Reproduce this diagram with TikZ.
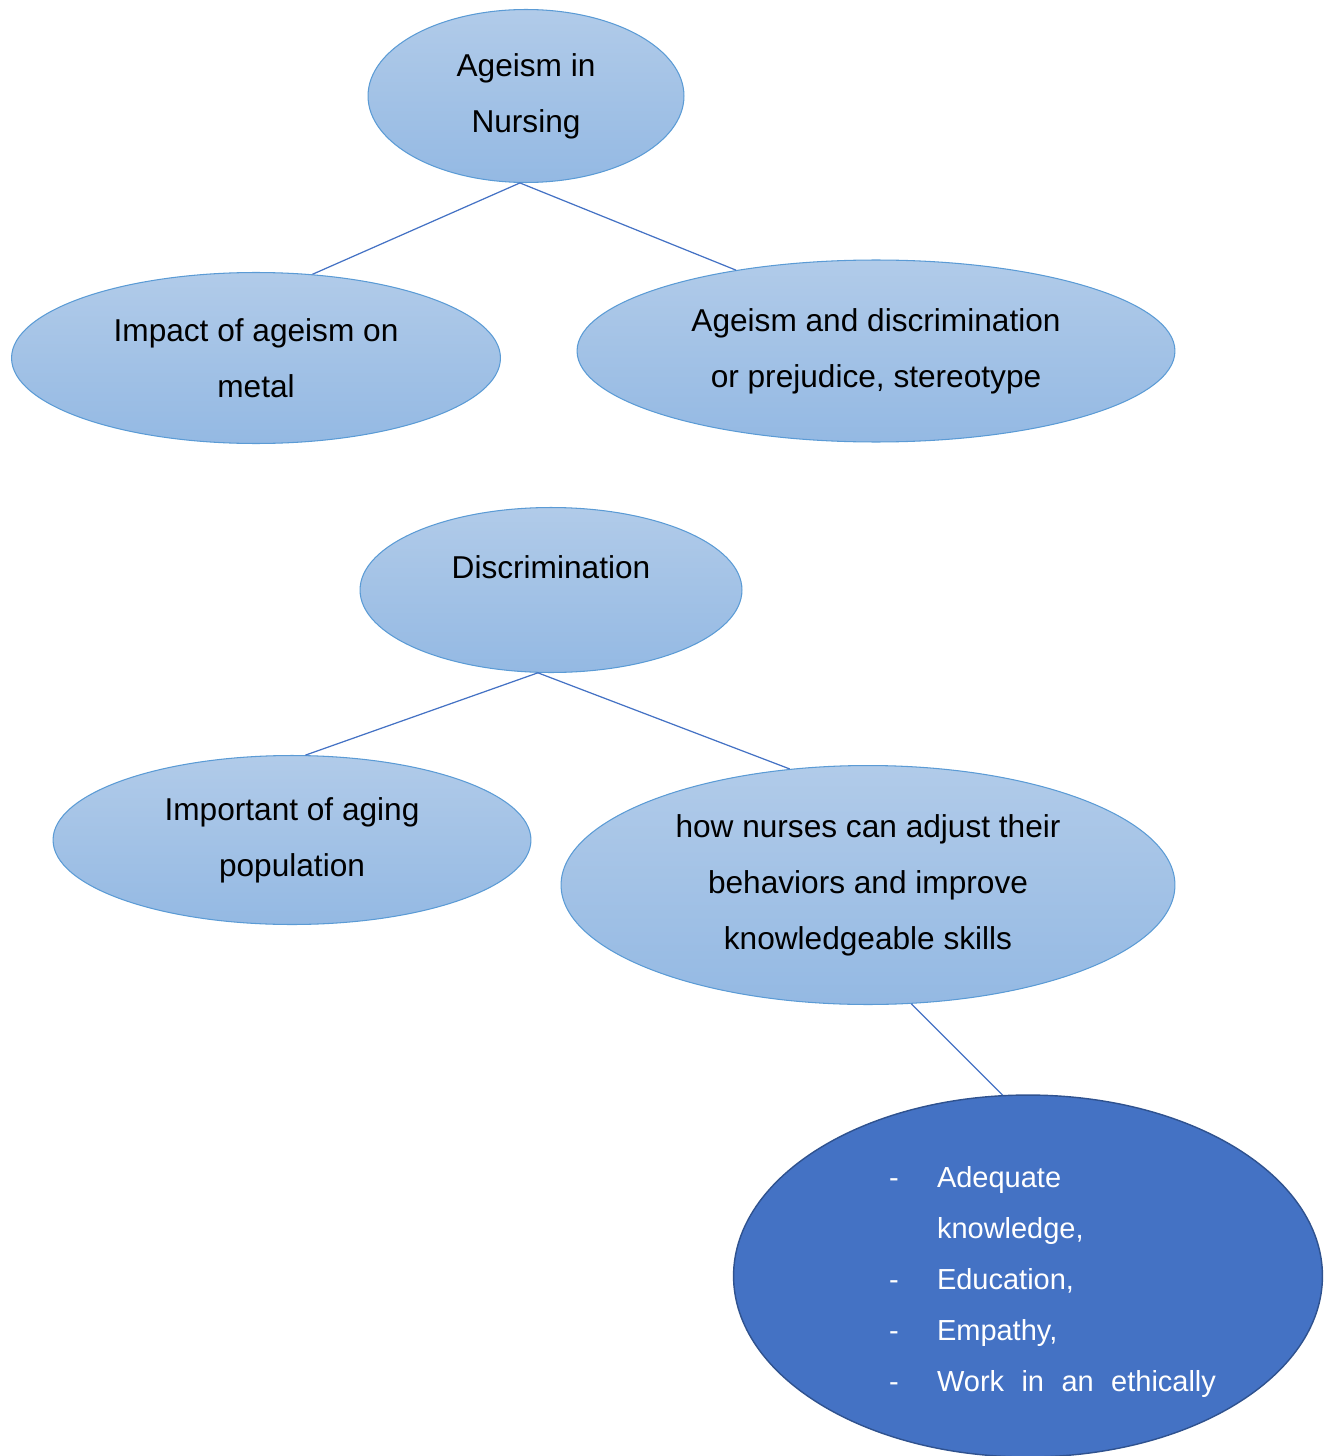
\documentclass[tikz,border=0pt]{standalone}
\usepackage{fontspec}
\setmainfont{Liberation Sans}
\usetikzlibrary{shapes.geometric}
\definecolor{blasshell}{HTML}{B1CBE9}
\definecolor{blassdunkel}{HTML}{94B9E3}
\definecolor{blasrand}{HTML}{5B9BD5}
\definecolor{linienblau}{HTML}{4472C4}
\definecolor{kernblau}{HTML}{4472C4}
\definecolor{kernrand}{HTML}{2F528F}

\begin{document}
\begin{tikzpicture}[x=0.02cm, y=-0.02cm,
    blase/.style={ellipse, draw=blasrand, line width=0.6pt, top color=blasshell,
        bottom color=blassdunkel, inner sep=0pt, align=center,
        font=\fontsize{18}{31.8}\selectfont},
    kern/.style={ellipse, draw=kernrand, line width=0.8pt, fill=kernblau,
        text=white, inner sep=0pt, font=\fontsize{16.5}{29}\selectfont},
    ast/.style={draw=linienblau, line width=0.7pt}]

    % Rahmen der Seite
    \useasboundingbox (0,0) rectangle (1332,1456);

    % Oberer Baum
    \node[blase, minimum width=6.32cm, minimum height=3.46cm] (nursing) at (526,96) {Ageism in\\Nursing};
    \node[blase, minimum width=9.78cm, minimum height=3.42cm] (impact) at (256,358) {Impact of ageism on\\metal};
    \node[blase, minimum width=11.96cm, minimum height=3.64cm] (vorurteil) at (876,351) {Ageism and discrimination\\or prejudice, stereotype};

    % Unterer Baum
    \node[blase, minimum width=7.64cm, minimum height=3.30cm] (diskrim) at (551,590) {Discrimination\\[-14.8pt]\strut};
    \node[blase, minimum width=9.56cm, minimum height=3.38cm] (bevoelkerung) at (292,840) {Important of aging\\population};
    \node[blase, minimum width=12.28cm, minimum height=4.78cm] (pflege) at (868,885) {how nurses can adjust their\\behaviors and improve\\knowledgeable skills};

    % Dunkle Blase mit Aufzaehlung
    \node[kern, minimum width=11.78cm, minimum height=7.24cm] (kompetenz) at (1028,1276) {%
        \raisebox{-0.22cm}[0pt][0pt]{%
        \begin{tabular}{@{\hspace{0.98cm}}p{0.96cm}@{}p{5.58cm}@{}}
            - & Adequate\\
              & knowledge,\\
            - & Education,\\
            - & Empathy,\\
            - & \makebox[5.58cm][s]{Work in an ethically}
        \end{tabular}}};

    % Verbindungslinien
    \draw[ast] (nursing.266) -- (impact.56);
    \draw[ast] (nursing.266) -- (vorurteil.150);
    \draw[ast] (diskrim.261) -- (bevoelkerung.81);
    \draw[ast] (diskrim.261) -- (pflege.124);
    \draw[ast] (pflege.290) -- (kompetenz.98);

\end{tikzpicture}
\end{document}
